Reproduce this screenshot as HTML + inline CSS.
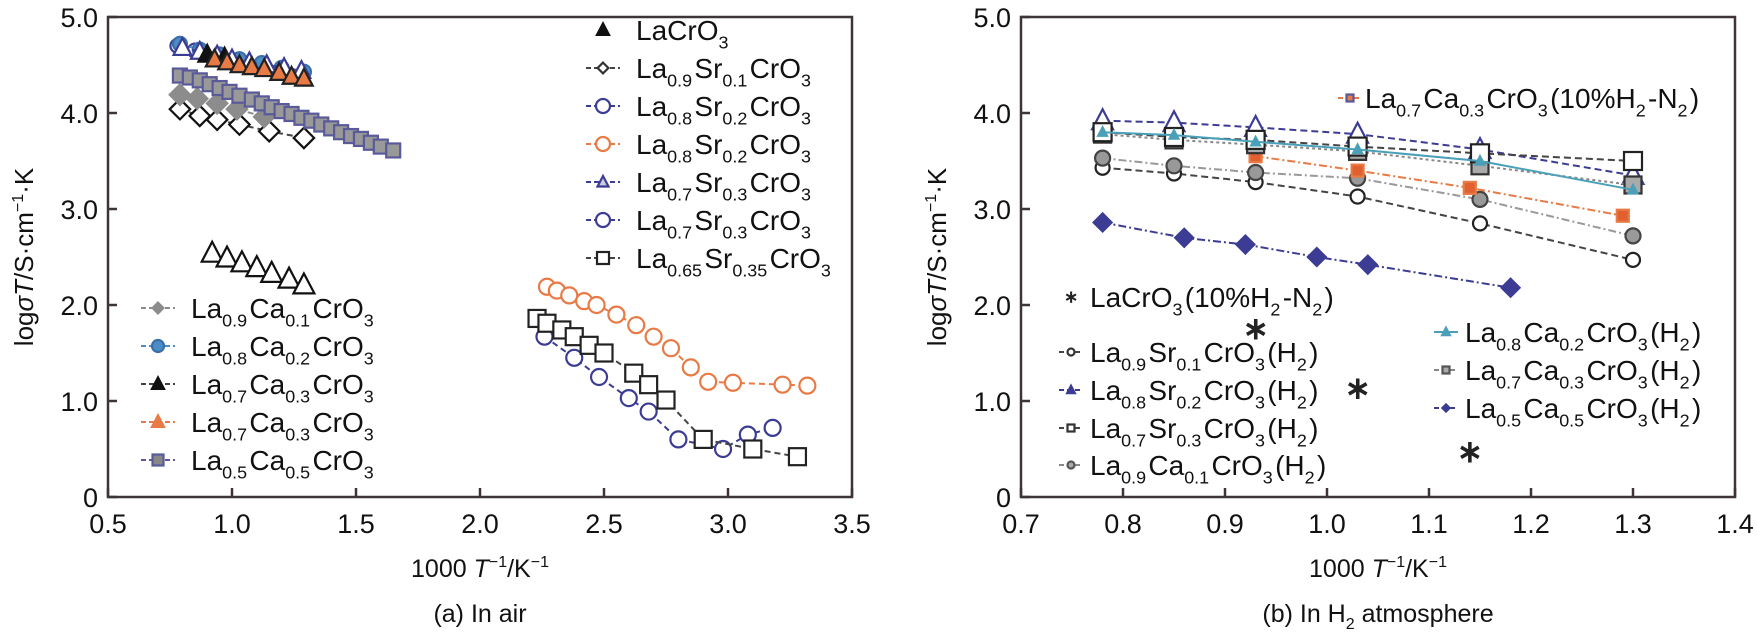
<!DOCTYPE html>
<html><head><meta charset="utf-8"><style>
html,body{margin:0;padding:0;background:#fff;}
svg{display:block;font-family:"Liberation Sans",Arial,sans-serif;}
</style></head><body>
<svg id="c" width="1757" height="637" viewBox="0 0 1757 637" xmlns="http://www.w3.org/2000/svg"></svg>
<script>
// ---------- Panel (a) data ----------
const aLaCrO3X=[0.92,0.98,1.04,1.10,1.16,1.23,1.29];
const aLaCrO3Y=[2.54,2.49,2.44,2.39,2.33,2.27,2.21];
const aSr01X=[0.79,0.87,0.94,1.03,1.15,1.29];
const aSr01Y=[4.04,3.97,3.93,3.88,3.81,3.74];
const aSr02bX=[0.78,0.85];
const aSr02bY=[4.70,4.65];
const aSr02oX=[2.27,2.31,2.36,2.42,2.47,2.55,2.63,2.70,2.77,2.85,2.92,3.02,3.22,3.32];
const aSr02oY=[2.19,2.15,2.10,2.04,2.00,1.90,1.79,1.67,1.55,1.35,1.20,1.19,1.17,1.16];
const aSr03tX=[0.80,0.87,0.94,1.00,1.07,1.14,1.21,1.28];
const aSr03tY=[4.68,4.64,4.60,4.56,4.53,4.50,4.47,4.44];
const aSr03cX=[2.26,2.38,2.48,2.60,2.68,2.80,2.98,3.08,3.18];
const aSr03cY=[1.67,1.45,1.25,1.03,0.89,0.60,0.50,0.65,0.72];
const aSr035X=[2.23,2.27,2.33,2.38,2.44,2.50,2.62,2.68,2.75,2.90,3.10,3.28];
const aSr035Y=[1.86,1.81,1.74,1.67,1.58,1.50,1.29,1.17,1.01,0.60,0.50,0.42];
const aCa01X=[0.79,0.86,0.94,1.02,1.13];
const aCa01Y=[4.19,4.15,4.10,4.04,3.96];
const aCa02X=[0.79,0.87,0.95,1.03,1.12,1.20,1.29];
const aCa02Y=[4.72,4.66,4.61,4.56,4.52,4.47,4.43];
const aCa03kX=[0.90,0.97];
const aCa03kY=[4.61,4.58];
const aCa03oX=[0.93,0.98,1.03,1.08,1.13,1.19,1.24,1.29];
const aCa03oY=[4.56,4.53,4.50,4.48,4.46,4.42,4.38,4.36];
const aCa05X=[0.79,0.83,0.87,0.91,0.95,0.99,1.03,1.08,1.12,1.16,1.20,1.24,1.28,1.32,1.36,1.40,1.44,1.48,1.52,1.56,1.60,1.65];
const aCa05Y=[4.39,4.37,4.34,4.30,4.26,4.22,4.18,4.14,4.10,4.06,4.02,3.99,3.95,3.92,3.88,3.84,3.80,3.76,3.73,3.69,3.65,3.61];
const aXTicks=["0.5","1.0","1.5","2.0","2.5","3.0","3.5"];
const yTicks=["0","1.0","2.0","3.0","4.0","5.0"];
// ---------- Panel (b) data ----------
const bX=[0.78,0.85,0.93,1.03,1.15,1.30];
const bSr02Y=[3.92,3.90,3.85,3.78,3.62,3.35];
const bCa03Y=[3.78,3.72,3.67,3.60,3.45,3.25];
const bSr03Y=[3.80,3.75,3.72,3.65,3.58,3.50];
const bCa02Y=[3.80,3.77,3.70,3.62,3.50,3.20];
const bCa01Y=[3.53,3.45,3.38,3.32,3.10,2.72];
const bSr01Y=[3.43,3.37,3.28,3.13,2.85,2.47];
const bN2CaX=[0.93,1.03,1.14,1.29];
const bN2CaY=[3.55,3.40,3.22,2.93];
const bCa05X=[0.78,0.86,0.92,0.99,1.04,1.18];
const bCa05Y=[2.86,2.70,2.63,2.50,2.42,2.18];
const bN2LaX=[0.93,1.03,1.14];
const bN2LaY=[1.75,1.13,0.47];
const bXTicks=["0.7","0.8","0.9","1.0","1.1","1.2","1.3","1.4"];

const NS="http://www.w3.org/2000/svg";
const svg=document.getElementById('c');
function el(t,a,p){const e=document.createElementNS(NS,t);for(const k in a)e.setAttribute(k,a[k]);(p||svg).appendChild(e);return e;}
const AX="#3d3535";
const Y0=497, YU=96;
const ya=v=>Y0-v*YU;
const xa=v=>108+(v-0.5)*248;
const xb=v=>1021+(v-0.7)*1020;

function chem(parent,x,y,str,size,anchor){
  const t=el('text',{x:x,y:y,'font-size':size,fill:'#111','text-anchor':anchor||'start'},parent);
  const re=/([^_^]+)|_\{([^}]*)\}|\^\{([^}]*)\}/g;let m;
  while((m=re.exec(str))){
    const s=el('tspan',{},t);
    if(m[1]!==undefined){s.textContent=m[1];}
    else if(m[2]!==undefined){s.setAttribute('font-size',size*0.64);s.setAttribute('dy',size*0.3);s.textContent=m[2];
      const r=el('tspan',{dy:-size*0.3,'font-size':size},t);r.textContent='\u200a';}
    else {s.setAttribute('font-size',size*0.64);s.setAttribute('dy',-size*0.4);s.textContent=m[3];
      const r=el('tspan',{dy:size*0.4,'font-size':size},t);r.textContent='';}
  }
  return t;
}

function marker(g,type,x,y,s,stroke,fill){
  let e;
  if(type==='circle') e=el('circle',{cx:x,cy:y,r:s/2},g);
  else if(type==='square') e=el('rect',{x:x-s/2,y:y-s/2,width:s,height:s},g);
  else if(type==='tri') e=el('polygon',{points:`${x},${y-s*0.6} ${x-s*0.55},${y+s*0.45} ${x+s*0.55},${y+s*0.45}`},g);
  else if(type==='diamond') e=el('polygon',{points:`${x},${y-s*0.6} ${x+s*0.6},${y} ${x},${y+s*0.6} ${x-s*0.6},${y}`},g);
  else if(type==='star'){e=el('text',{x:x,y:y+s*0.45,'text-anchor':'middle','font-size':s*1.4,'font-weight':'bold',fill:stroke},g);e.textContent='\u2217';return e;}
  e.setAttribute('stroke',stroke);e.setAttribute('fill',fill);e.setAttribute('stroke-width',2.2);
  return e;
}

function series(name,xs,ys,fx,type,size,stroke,fill,line,dash){
  const g=el('g',{});
  
  
  if(line){
    const pts=xs.map((v,i)=>fx(v)+','+ya(ys[i])).join(' ');
    el('polyline',{points:pts,fill:'none',stroke:line,'stroke-width':2,'stroke-dasharray':dash||'none'},g);
  }
  xs.forEach((v,i)=>{const m=marker(g,type,fx(v),ya(ys[i]),size,stroke,fill);
    
    });
}

function axes(name,x0,x1,ticks,fx,tickVals,xtitleX){
  const g=el('g',{});
  
  
  el('rect',{x:x0,y:ya(5),width:x1-x0,height:ya(0)-ya(5),fill:'none',stroke:AX,'stroke-width':2.5},g);
  ticks.forEach((t,i)=>{const x=fx(tickVals[i]);
    el('line',{x1:x,y1:Y0,x2:x,y2:Y0-9,stroke:AX,'stroke-width':2.5},g);
    const tx=el('text',{x:x,y:Y0+36,'text-anchor':'middle','font-size':27,fill:'#111'},g);tx.textContent=t;
    
    });
  yTicks.forEach((t,i)=>{const y=ya(i);
    el('line',{x1:x0,y1:y,x2:x0+9,y2:y,stroke:AX,'stroke-width':2.5},g);
    const ty=el('text',{x:x0-10,y:y+10,'text-anchor':'end','font-size':27,fill:'#111'},g);ty.textContent=t;
    
    });
  const xt=el('text',{x:xtitleX,y:577,'font-size':25,fill:'#111','text-anchor':'middle'},g);
  const a=el('tspan',{},xt);a.textContent='1000 ';
  const b=el('tspan',{'font-style':'italic'},xt);b.textContent='T';
  const c=el('tspan',{'font-size':16,dy:-10},xt);c.textContent='\u22121';
  const d=el('tspan',{dy:10},xt);d.textContent='/K';
  const e=el('tspan',{'font-size':16,dy:-10},xt);e.textContent='\u22121';
  
  
  const yt=el('text',{x:0,y:0,'font-size':26,fill:'#111','text-anchor':'middle',transform:`translate(${x0-75},${ya(2.5)}) rotate(-90)`},g);
  const y1=el('tspan',{},yt);y1.textContent='log';
  const y2=el('tspan',{'font-style':'italic'},yt);y2.textContent='σT';
  const y3=el('tspan',{},yt);y3.textContent='/S·cm';
  const y4=el('tspan',{'font-size':16,dy:-10},yt);y4.textContent='\u22121';
  const y5=el('tspan',{dy:10},yt);y5.textContent='·K';
  
  
  const cp=el('text',{x:xtitleX,y:622,'text-anchor':'middle','font-size':25,fill:'#111'},g);
  
  
  return cp;
}

function legend(x,y,label,type,stroke,fill,line,dash,size,gap,half){
  const g=el('g',{});
  
  
  const h=half||17;
  if(line) el('line',{x1:x-h,y1:y,x2:x+h,y2:y,stroke:line,'stroke-width':2,'stroke-dasharray':dash||'none'},g);
  marker(g,type,x,y,size||9,stroke,fill);
  chem(g,x+(gap||33),y+10,label,28);
}

// ---------- Panel (a) ----------
const cpA=axes('panel-a',108,852,aXTicks,xa,[0.5,1,1.5,2,2.5,3,3.5],480);
cpA.textContent='(a) In air';
const BLUE='#3c3c95', ORG='#e87a45', GRY='#8c8c8c', LBL='#4a8ec8';
series('la-cro3',aLaCrO3X,aLaCrO3Y,xa,'tri',19,'#111','#fff',null);
series('la09sr01',aSr01X,aSr01Y,xa,'diamond',17,'#111','#fff','#444','6,4');
series('la08sr02-blue',aSr02bX,aSr02bY,xa,'circle',14,BLUE,'#fff','#444','6,4');
series('la08sr02-orange',aSr02oX,aSr02oY,xa,'circle',16,ORG,'#fff',ORG,'6,4');
series('la09ca01',aCa01X,aCa01Y,xa,'diamond',17,GRY,GRY,GRY,'6,4');
series('la05ca05',aCa05X,aCa05Y,xa,'square',14,'#5a5a9a','#999',null);
series('la08ca02',aCa02X,aCa02Y,xa,'circle',14,'#3a6fa8',LBL,LBL,'6,4');
series('la07sr03-tri',aSr03tX,aSr03tY,xa,'tri',16,BLUE,'#fff',BLUE,'6,4');
series('la07ca03-black',aCa03kX,aCa03kY,xa,'tri',16,'#111','#111',null);
series('la07ca03-orange',aCa03oX,aCa03oY,xa,'tri',16,'#222',ORG,null);
series('la07sr03-circle',aSr03cX,aSr03cY,xa,'circle',16,BLUE,'#fff',BLUE,'6,4');
series('la065sr035',aSr035X,aSr035Y,xa,'square',17,'#222','#fff','#444','6,4');

legend(603,30,'LaCrO_{3}','tri','#111','#111',null,null,11);
legend(603,68,'La_{0.9}Sr_{0.1}CrO_{3}','diamond','#333','#fff','#444','5,3');
legend(603,106,'La_{0.8}Sr_{0.2}CrO_{3}','circle',BLUE,'#fff',BLUE,'5,3',14);
legend(603,144,'La_{0.8}Sr_{0.2}CrO_{3}','circle',ORG,'#fff',ORG,'5,3',14);
legend(603,182,'La_{0.7}Sr_{0.3}CrO_{3}','tri',BLUE,'#ccd',BLUE,'5,3',10);
legend(603,220,'La_{0.7}Sr_{0.3}CrO_{3}','circle',BLUE,'#fff',BLUE,'5,3',14);
legend(603,258,'La_{0.65}Sr_{0.35}CrO_{3}','square','#222','#fff','#444','5,3',12);
legend(158,308,'La_{0.9}Ca_{0.1}CrO_{3}','diamond',GRY,GRY,GRY,'5,3');
legend(158,346,'La_{0.8}Ca_{0.2}CrO_{3}','circle','#3a6fa8',LBL,LBL,'5,3',12);
legend(158,384,'La_{0.7}Ca_{0.3}CrO_{3}','tri','#111','#111','#444','5,3',11);
legend(158,422,'La_{0.7}Ca_{0.3}CrO_{3}','tri',ORG,ORG,ORG,'5,3',11);
legend(158,460,'La_{0.5}Ca_{0.5}CrO_{3}','square','#5a5a9a','#888','#5a5a9a','5,3',11);

// ---------- Panel (b) ----------
const cpB=axes('panel-b',1021,1735,bXTicks,xb,[0.7,0.8,0.9,1.0,1.1,1.2,1.3,1.4],1378);
cpB.textContent='(b) In H';
const sb=el('tspan',{'font-size':16,dy:7},cpB);sb.textContent='2';
const sc=el('tspan',{dy:-7},cpB);sc.textContent=' atmosphere';
const TEAL='#4aa0b8';
series('b-la09sr01',bX,bSr01Y,xb,'circle',14,'#222','#fff','#444','7,4');
series('b-la09ca01',bX,bCa01Y,xb,'circle',15,'#444','#999','#999','8,3,2,3');
series('b-la05ca05',bCa05X,bCa05Y,xb,'diamond',15,BLUE,BLUE,BLUE,'8,3,2,3');
series('b-la07ca03-n2',bN2CaX,bN2CaY,xb,'square',12,ORG,'#e06030',ORG,'8,3,2,3');
series('b-la08sr02',bX,bSr02Y,xb,'tri',19,BLUE,'#fff',BLUE,'7,4');
series('b-la07ca03',bX,bCa03Y,xb,'square',17,'#333','#aaa','#888','3,3');
series('b-la07sr03',bX,bSr03Y,xb,'square',18,'#222','#fff','#444','7,4');
series('b-la08ca02',bX,bCa02Y,xb,'tri',8,TEAL,TEAL,TEAL,null);
series('b-lacro3-n2',bN2LaX,bN2LaY,xb,'star',22,'#222','#222',null);

legend(1350,98,'La_{0.7}Ca_{0.3}CrO_{3}(10%H_{2}-N_{2})','square','#5a5a9a',ORG,ORG,'5,3',7,15,12);
legend(1071,297,'LaCrO_{3}(10%H_{2}-N_{2})','star','#222','#222',null,null,12,19,12);
legend(1071,352,'La_{0.9}Sr_{0.1}CrO_{3}(H_{2})','circle','#333','#fff','#444','5,3',7,19,12);
legend(1071,390,'La_{0.8}Sr_{0.2}CrO_{3}(H_{2})','tri',BLUE,BLUE,BLUE,'5,3',7,19,12);
legend(1071,428,'La_{0.7}Sr_{0.3}CrO_{3}(H_{2})','square','#333','#fff','#444','5,3',7,19,12);
legend(1071,465,'La_{0.9}Ca_{0.1}CrO_{3}(H_{2})','circle','#555','#aaa','#888','5,3',7,19,12);
legend(1446,332,'La_{0.8}Ca_{0.2}CrO_{3}(H_{2})','tri',TEAL,TEAL,TEAL,null,7,19,12);
legend(1446,370,'La_{0.7}Ca_{0.3}CrO_{3}(H_{2})','square','#555','#aaa','#888','5,3',7,19,12);
legend(1446,408,'La_{0.5}Ca_{0.5}CrO_{3}(H_{2})','diamond',BLUE,BLUE,BLUE,'5,3',6,19,12);
</script>
</body></html>
